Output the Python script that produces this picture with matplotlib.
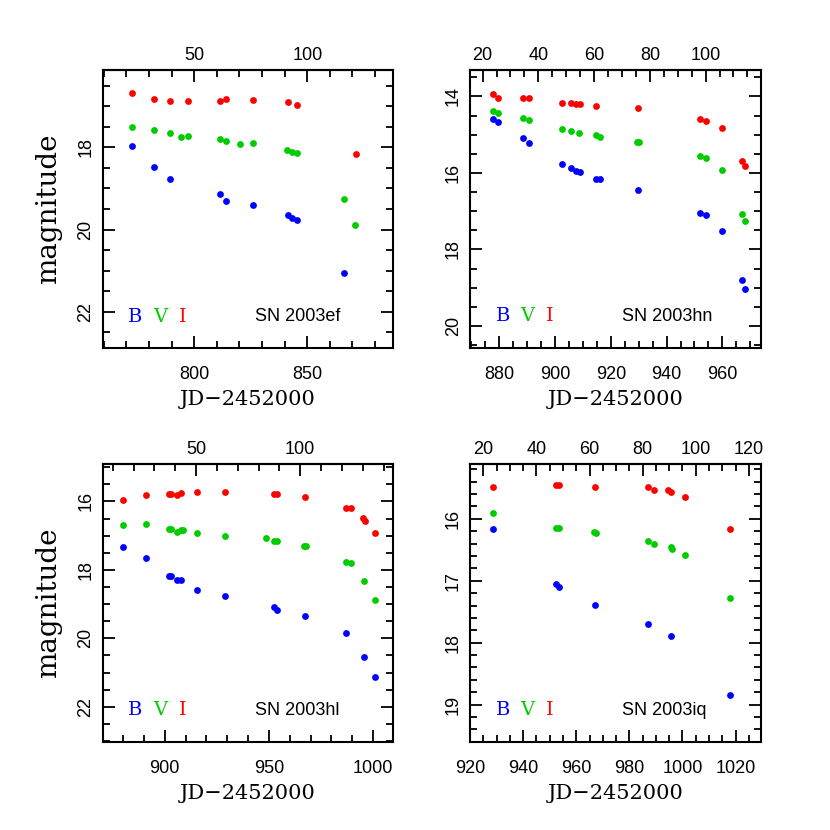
import matplotlib
matplotlib.use("Agg")
import matplotlib.pyplot as plt
import numpy as np
from matplotlib.ticker import MultipleLocator, FixedLocator

# ---------------- data ----------------
# SN 2003ef
ef_I_jd = [772.4, 782.4, 789.3, 797.4, 811.3, 814.2, 826.2, 841.3, 845.3, 871.4]
ef_I_mag = [16.68, 16.82, 16.87, 16.87, 16.87, 16.83, 16.84, 16.91, 16.96, 18.16]
ef_V_jd = [772.4, 782.4, 789.3, 794.1, 797.4, 811.3, 814.2, 820.4, 826.2, 841.0, 843.2, 845.3, 866.4, 871.1]
ef_V_mag = [17.50, 17.58, 17.66, 17.75, 17.72, 17.80, 17.85, 17.92, 17.90, 18.06, 18.11, 18.14, 19.26, 19.89]
ef_B_jd = [772.4, 782.4, 789.3, 811.3, 814.2, 826.2, 841.3, 843.2, 845.3, 866.3]
ef_B_mag = [17.97, 18.48, 18.77, 19.14, 19.30, 19.41, 19.65, 19.73, 19.77, 21.05]

# SN 2003hn
hn_I_jd = [877.6, 879.6, 888.6, 890.6, 902.6, 905.7, 907.6, 908.9, 914.8, 929.9, 952.1, 954.0, 960.0, 967.1, 968.2]
hn_I_mag = [13.94, 14.03, 14.04, 14.04, 14.17, 14.17, 14.19, 14.19, 14.24, 14.31, 14.59, 14.63, 14.83, 15.69, 15.83]
hn_V_jd = [877.6, 879.6, 888.6, 890.6, 902.6, 905.7, 908.7, 914.8, 916.0, 929.3, 930.1, 952.1, 954.0, 960.0, 967.1, 968.2]
hn_V_mag = [14.37, 14.44, 14.56, 14.61, 14.86, 14.90, 14.96, 15.02, 15.05, 15.18, 15.18, 15.57, 15.62, 15.92, 17.08, 17.25]
hn_B_jd = [877.6, 879.6, 888.6, 890.6, 902.6, 905.7, 907.6, 908.9, 914.8, 916.0, 929.9, 952.1, 954.0, 960.0, 967.1, 968.2]
hn_B_mag = [14.58, 14.66, 15.10, 15.21, 15.76, 15.88, 15.94, 15.97, 16.17, 16.17, 16.45, 17.05, 17.11, 17.52, 18.80, 19.04]

# SN 2003hl
hl_I_jd = [880.1, 891.2, 901.9, 902.9, 905.9, 908.0, 915.6, 928.7, 952.6, 953.7, 967.5, 986.9, 989.5, 994.9, 996.2, 1001.0]
hl_I_mag = [15.95, 15.81, 15.78, 15.78, 15.82, 15.75, 15.74, 15.73, 15.78, 15.78, 15.88, 16.18, 16.20, 16.49, 16.57, 16.91]
hl_V_jd = [880.1, 891.2, 901.9, 902.9, 905.9, 908.0, 908.8, 915.6, 928.7, 948.6, 952.6, 953.7, 967.0, 967.8, 986.9, 989.5, 995.8, 1001.0]
hl_V_mag = [16.68, 16.67, 16.80, 16.82, 16.88, 16.85, 16.85, 16.93, 17.01, 17.07, 17.17, 17.17, 17.31, 17.30, 17.78, 17.80, 18.32, 18.87]
hl_B_jd = [880.1, 891.2, 901.9, 902.9, 905.9, 908.0, 915.6, 928.7, 952.6, 953.7, 967.5, 987.1, 995.8, 1001.0]
hl_B_mag = [17.33, 17.65, 18.18, 18.19, 18.31, 18.29, 18.59, 18.76, 19.09, 19.18, 19.34, 19.84, 20.54, 21.14]

# SN 2003iq
iq_I_jd = [928.5, 952.2, 953.5, 967.1, 987.0, 989.1, 994.6, 995.8, 1000.8, 1017.9]
iq_I_mag = [15.49, 15.46, 15.46, 15.49, 15.49, 15.53, 15.54, 15.56, 15.64, 16.17]
iq_V_jd = [928.5, 952.2, 953.5, 966.5, 967.5, 987.1, 989.1, 995.5, 996.0, 1000.8, 1017.9]
iq_V_mag = [15.90, 16.15, 16.15, 16.22, 16.23, 16.35, 16.41, 16.45, 16.48, 16.58, 17.28]
iq_B_jd = [928.5, 952.2, 953.5, 967.1, 987.1, 995.8, 1017.9]
iq_B_mag = [16.17, 17.05, 17.10, 17.39, 17.70, 17.89, 18.85]

names = ["SN 2003ef", "SN 2003hn", "SN 2003hl", "SN 2003iq"]
phase_offsets = [750, 854, 865, 905]
band_labels = ["B", "V", "I"]

# ---------------- style ----------------
RED, GREEN, BLUE = "#ff0000", "#00cc00", "#0000ff"
SANS = "Liberation Sans"
SERIF = "DejaVu Serif"

fig = plt.figure(figsize=(8.3, 8.3), dpi=100)
W, H = 0.350, 0.335
positions = [
    [0.1237, 0.5807, W, H],
    [0.5663, 0.5811, W, H],
    [0.1237, 0.1063, W, H],
    [0.5663, 0.1063, W, H],
]
xlims = [(759.5, 888.0), (869.5, 973.7), (870.2, 1009.6), (920.0, 1029.4)]
ylims = [(22.88, 16.12), (20.57, 13.30), (23.02, 14.90), (19.60, 15.11)]
xmaj = [50, 20, 50, 20]
xmin = [10, 5, 10, 5]
ymaj = [2, 2, 2, 1]
ymin = [0.5, 0.5, 0.5, 0.2]
topmaj = [50, 20, 50, 20]
topmin = [10, 5, 10, 5]

data = [
    (ef_B_jd, ef_B_mag, ef_V_jd, ef_V_mag, ef_I_jd, ef_I_mag),
    (hn_B_jd, hn_B_mag, hn_V_jd, hn_V_mag, hn_I_jd, hn_I_mag),
    (hl_B_jd, hl_B_mag, hl_V_jd, hl_V_mag, hl_I_jd, hl_I_mag),
    (iq_B_jd, iq_B_mag, iq_V_jd, iq_V_mag, iq_I_jd, iq_I_mag),
]


def in_range_ticks(lo, hi, step):
    start = np.ceil(lo / step) * step
    vals = np.arange(start, hi + 1e-9, step)
    return [v for v in vals if lo <= v <= hi]


for k in range(4):
    ax = fig.add_axes(positions[k])
    bj, bm, vj, vm, ij, im = data[k]
    ms = 24
    ax.scatter(ij, im, s=ms, color=RED, linewidths=0, zorder=3)
    ax.scatter(vj, vm, s=ms, color=GREEN, linewidths=0, zorder=3)
    ax.scatter(bj, bm, s=ms, color=BLUE, linewidths=0, zorder=3)
    ax.set_xlim(*xlims[k])
    ax.set_ylim(*ylims[k])
    ax.xaxis.set_major_locator(MultipleLocator(xmaj[k]))
    ax.xaxis.set_minor_locator(MultipleLocator(xmin[k]))
    ax.yaxis.set_major_locator(MultipleLocator(ymaj[k]))
    ax.yaxis.set_minor_locator(MultipleLocator(ymin[k]))
    for s in ax.spines.values():
        s.set_linewidth(1.5)
    ax.tick_params(which="both", direction="in", top=False, right=True, width=1.3,
                   labelsize=13)
    ax.tick_params(which="major", length=8.5)
    ax.tick_params(which="minor", length=5)
    ax.tick_params(axis="x", pad=13)
    ax.tick_params(axis="y", pad=6)
    for lab in ax.get_xticklabels() + ax.get_yticklabels():
        lab.set_fontfamily(SANS)
    for lab in ax.get_yticklabels():
        lab.set_rotation(90)
        lab.set_va("center")

    off = phase_offsets[k]
    lo, hi = xlims[k][0] - off, xlims[k][1] - off
    sec = ax.secondary_xaxis("top", functions=(lambda x, o=off: x - o, lambda x, o=off: x + o))
    sec.xaxis.set_major_locator(FixedLocator(in_range_ticks(lo, hi, topmaj[k])))
    sec.xaxis.set_minor_locator(FixedLocator(in_range_ticks(lo, hi, topmin[k])))
    sec.tick_params(which="both", direction="in", width=1.3, labelsize=13, pad=4)
    sec.tick_params(which="major", length=8.5)
    sec.tick_params(which="minor", length=5)
    sec.spines["top"].set_linewidth(1.5)
    for lab in sec.get_xticklabels():
        lab.set_fontfamily(SANS)

    ax.set_xlabel("JD\u22122452000", fontfamily=SERIF, fontsize=15, labelpad=5)
    if k in (0, 2):
        ax.set_ylabel("magnitude", fontfamily=SERIF, fontsize=20, labelpad=11)

    ty = 0.113
    for lbl, col, tx in zip(band_labels, [BLUE, GREEN, RED], [0.113, 0.197, 0.274]):
        ax.text(tx, ty, lbl, color=col, transform=ax.transAxes, ha="center", va="center",
                fontfamily=SERIF, fontsize=14)
    ax.text(0.524, ty, names[k], transform=ax.transAxes, ha="left", va="center",
            fontfamily=SANS, fontsize=13)

fig.savefig("out.png", dpi=100)
